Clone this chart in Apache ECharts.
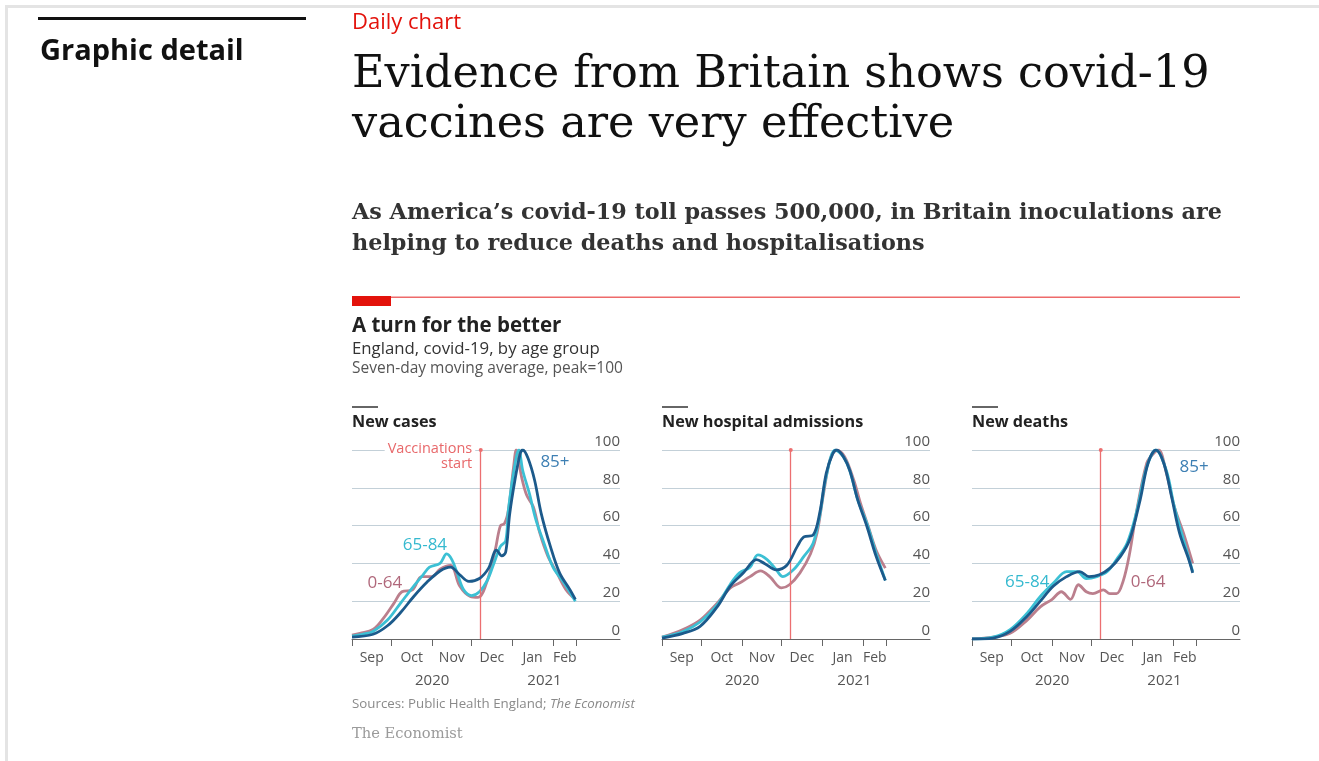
<!DOCTYPE html>
<html>
<head>
<meta charset="utf-8">
<script src="https://cdn.jsdelivr.net/npm/echarts@6/dist/echarts.min.js"></script>
<style>
  html, body { margin: 0; padding: 0; background: #fff; }
  #chart { width: 1319px; height: 761px; }
</style>
</head>
<body>
<div id="chart"></div>
<script>
// x values are days counted from 1 September 2020
const monthTickDays = [0, 30, 61, 91, 122, 153, 171];
const monthLabelDays = [15, 45.5, 76, 106.5, 137.5, 162];
const monthLabels = ['Sep', 'Oct', 'Nov', 'Dec', 'Jan', 'Feb'];
const yearLabelDays = [61, 146.5];
const yearLabels = ['2020', '2021'];
const vaccinationDay = 98; // 8 December 2020
const panelTitles = ['New cases', 'New hospital admissions', 'New deaths'];
const ageGroups = ['0-64', '65-84', '85+'];

// New cases, seven-day average, peak = 100
const casesDays064 = [0, 6, 16, 24, 32, 38, 46, 53, 61, 67, 75, 82, 90, 96, 103, 109, 113, 116, 119, 123, 125, 129, 133, 138, 143, 149, 156, 163, 170];
const cases064 = [2, 3, 5, 11, 19, 25, 26, 33, 33, 37, 39, 28, 22.5, 22, 31, 47, 60, 61, 68, 91, 100, 86, 76, 70, 56, 44, 35, 26, 21];
const casesDays6584 = [0, 8, 16, 27, 37, 47, 53, 59, 67, 72, 76, 80, 85, 91, 97, 103, 108, 113, 117, 119, 123, 127, 130, 135, 140, 146, 153, 161, 170];
const cases6584 = [1.5, 2.5, 4, 10, 19, 28, 33, 38, 40, 45, 42, 35, 26, 23, 25, 31, 40, 49, 52, 68, 88, 100, 89, 77, 63, 51, 38, 30, 20];
const casesDays85 = [0, 16, 27, 37, 47, 57, 67, 75, 82, 89, 97, 104, 110, 114, 117, 120, 124, 128, 130, 134, 139, 144, 151, 158, 166, 170];
const cases85 = [1, 2.5, 7, 14, 22.5, 30, 36, 38, 34, 30.5, 32, 37.5, 47, 44, 46, 66, 84, 98, 100, 95.6, 84, 66.5, 49, 35, 26, 21];

// New hospital admissions
const hospDays064 = [0, 16, 29, 42, 52, 59, 67, 75, 82, 91, 97, 105, 113, 118, 123, 128, 133, 139, 146, 151, 157, 163, 170];
const hosp064 = [1, 5, 10, 19, 27, 29.6, 33, 36, 33, 27, 28.7, 35, 45, 56, 77, 95, 100, 96.5, 84, 72, 59.5, 47, 37.5];
const hospDays6584 = [0, 16, 29, 42, 52, 59, 67, 73, 80, 87, 92, 100, 108, 115, 120, 125, 132, 138, 143, 149, 156, 163, 170];
const hosp6584 = [1, 4, 9, 18, 29, 35, 38, 44.5, 42, 36.6, 33, 36.6, 43.7, 50.7, 65, 86, 100, 96.5, 89, 73.6, 61, 45.4, 31];
const hospDays85 = [0, 16, 29, 42, 52, 62, 72, 78, 87, 95, 103, 108, 115, 120, 125, 130, 133, 138, 143, 149, 156, 163, 170];
const hosp85 = [0.5, 3, 6.7, 17, 28, 35, 42, 40, 36.6, 39, 49, 54, 55, 66.5, 87.7, 98, 100, 96.5, 89, 73.6, 59.5, 43.7, 31];

// New deaths
const deathDays064 = [0, 16, 29, 42, 52, 61, 68, 75, 81, 87, 92, 100, 105, 110, 115, 120, 125, 133, 138, 142, 148, 154, 161, 168];
const death064 = [0, 1, 3, 10, 17, 21, 25, 21, 28.7, 25, 24, 26, 24, 24, 30.5, 45.4, 66.5, 93, 98, 100, 87.7, 70, 56, 40];
const deathDays6584 = [0, 16, 29, 42, 52, 62, 72, 80, 87, 95, 103, 110, 118, 125, 133, 140, 148, 154, 161, 168];
const death6584 = [0, 1, 5, 13.7, 22.5, 29.6, 35.7, 35.7, 32, 33, 35.7, 42, 50.7, 66.5, 91, 100, 89, 70, 52.5, 35.7];
const deathDays85 = [0, 16, 29, 42, 52, 62, 72, 82, 89, 97, 105, 113, 120, 128, 134, 140, 146, 152, 158, 165, 168];
const death85 = [0, 0.5, 4, 12, 20, 28, 33, 35.7, 33, 34, 37.5, 43.7, 52.5, 73.6, 93, 100, 93, 75, 56, 42, 35];

// Series labels placed in data coordinates: [panel, group, day, value]
const seriesLabels = [
  [0, 0, 25, 29.6],
  [0, 1, 55.5, 49.7],
  [0, 2, 154.5, 93.7],
  [2, 1, 42, 30],
  [2, 0, 134, 30],
  [2, 2, 169, 91]
];

const panels = [
  [[casesDays064, cases064], [casesDays6584, cases6584], [casesDays85, cases85]],
  [[hospDays064, hosp064], [hospDays6584, hosp6584], [hospDays85, hosp85]],
  [[deathDays064, death064], [deathDays6584, death6584], [deathDays85, death85]]
];

const SANS = '"Open Sans", "DejaVu Sans", sans-serif';
const SERIF = '"DejaVu Serif", serif';
const lineColors = ['#bb7f8d', '#3cc0d4', '#1c5a8b'];
const labelColors = ['#b0687b', '#35b9cf', '#3d7fb3'];
const RED = '#e3120b';

const pair = (xs, ys) => xs.map((d, i) => [d, ys[i]]);

const grids = [], xAxes = [], yAxes = [], series = [];
panels.forEach((groups, p) => {
  grids.push({ left: 352 + 310 * p, top: 450, width: 268, height: 189 });
  xAxes.push({
    gridIndex: p, type: 'value', min: 0, max: 204,
    axisLine: { show: true, lineStyle: { color: '#666', width: 1 } },
    axisTick: { show: true, customValues: monthTickDays, length: 7, lineStyle: { color: '#666' } },
    axisLabel: {
      customValues: monthLabelDays, margin: 12, color: '#555', fontSize: 14, fontFamily: SANS,
      formatter: v => monthLabels[monthLabelDays.indexOf(v)]
    },
    splitLine: { show: false }
  });
  xAxes.push({
    gridIndex: p, type: 'value', min: 0, max: 204, position: 'bottom', offset: 22,
    axisLine: { show: false }, axisTick: { show: false }, splitLine: { show: false },
    axisLabel: {
      customValues: yearLabelDays, margin: 12, color: '#555', fontSize: 15, fontFamily: SANS,
      formatter: v => yearLabels[yearLabelDays.indexOf(v)]
    }
  });
  yAxes.push({
    gridIndex: p, type: 'value', position: 'right', min: 0, max: 100, interval: 20,
    axisLine: { show: false }, axisTick: { show: false },
    axisLabel: { inside: true, margin: 0, verticalAlign: 'bottom', color: '#555', fontSize: 15, fontFamily: SANS, lineHeight: 17 },
    splitLine: { show: true, lineStyle: { color: '#c3d0d8', width: 1 } }
  });
  groups.forEach(([days, vals], g) => {
    const s = {
      type: 'line', name: ageGroups[g], xAxisIndex: p * 2, yAxisIndex: p,
      data: pair(days, vals), smooth: 0.35, showSymbol: false, symbol: 'none',
      lineStyle: { color: lineColors[g], width: 2.8 }, z: 3 + g, silent: true
    };
    const marks = seriesLabels.filter(l => l[0] === p && l[1] === g);
    const mpData = marks.map(l => ({
      coord: [l[2], l[3]], symbol: 'circle', symbolSize: 1, itemStyle: { color: 'rgba(0,0,0,0)' },
      label: { show: true, position: 'inside', formatter: ageGroups[g], color: labelColors[g], fontSize: 17, fontFamily: SANS }
    }));
    if (g === 0) {
      s.markLine = {
        silent: true, symbol: ['none', 'circle'], symbolSize: 4, animation: false,
        lineStyle: { color: '#ec6f70', width: 1.3, type: 'solid' },
        label: { show: false },
        data: [[{ coord: [vaccinationDay, 0] }, { coord: [vaccinationDay, 100] }]]
      };
      if (p === 0) {
        mpData.push({
          coord: [vaccinationDay, 100], symbol: 'circle', symbolSize: 1, itemStyle: { color: 'rgba(0,0,0,0)' },
          label: {
            show: true, position: [-5, -8], align: 'right', verticalAlign: 'top',
            formatter: 'Vaccinations\nstart', color: '#e8686a', fontSize: 14.5, lineHeight: 15,
            fontFamily: SANS, backgroundColor: '#fff', padding: [0, 3, 0, 3]
          }
        });
      }
    }
    if (mpData.length) s.markPoint = { silent: true, animation: false, data: mpData };
    series.push(s);
  });
});

const text = (x, y, str, style) => ({
  type: 'text', x, y, silent: true,
  style: Object.assign({ text: str, fill: '#222', fontFamily: SANS, verticalAlign: 'middle' }, style)
});

const graphics = [
  // frame edges
  { type: 'rect', shape: { x: 5, y: 5, width: 1314, height: 3 }, style: { fill: '#e4e4e4' }, silent: true },
  { type: 'rect', shape: { x: 5, y: 5, width: 3, height: 756 }, style: { fill: '#e4e4e4' }, silent: true },
  // section heading
  { type: 'rect', shape: { x: 38, y: 17, width: 268, height: 3 }, style: { fill: '#111' }, silent: true },
  text(40, 52, 'Graphic detail', { fontSize: 29, fontWeight: 'bold', fill: '#111' }),
  text(352, 23, 'Daily chart', { fontSize: 22, fill: RED }),
  text(352, 75, 'Evidence from Britain shows covid-19', { fontSize: 44.6, fontFamily: SERIF, fill: '#111' }),
  text(352, 125, 'vaccines are very effective', { fontSize: 44.6, fontFamily: SERIF, fill: '#111' }),
  text(352, 213, 'As America\u2019s covid-19 toll passes 500,000, in Britain inoculations are', { fontSize: 22.3, fontFamily: SERIF, fontWeight: 'bold', fill: '#333' }),
  text(352, 244, 'helping to reduce deaths and hospitalisations', { fontSize: 22.3, fontFamily: SERIF, fontWeight: 'bold', fill: '#333' }),
  // chart header rule
  { type: 'rect', shape: { x: 352, y: 296.5, width: 888, height: 1.5 }, style: { fill: '#ee6a6a' }, silent: true },
  { type: 'rect', shape: { x: 352, y: 296, width: 39, height: 10 }, style: { fill: RED }, silent: true },
  text(352, 326, 'A turn for the better', { fontSize: 20.5, fontWeight: 'bold', fill: '#222' }),
  text(352, 349, 'England, covid-19, by age group', { fontSize: 16.8, fill: '#333' }),
  text(352, 369, 'Seven-day moving average, peak=100', { fontSize: 15.5, fill: '#555' }),
  {
    type: 'text', x: 352, y: 704, silent: true,
    style: {
      text: '{a|Sources: Public Health England; }{b|The Economist}', verticalAlign: 'middle',
      rich: {
        a: { fontSize: 13.3, fontFamily: SANS, fill: '#8a8a8a' },
        b: { fontSize: 13.3, fontFamily: SANS, fill: '#8a8a8a', fontStyle: 'italic' }
      }
    }
  },
  text(352, 734, 'The Economist', { fontSize: 14.7, fontFamily: SERIF, fill: '#9a9a9a' })
];
panelTitles.forEach((t, p) => {
  const x = 352 + 310 * p;
  graphics.push({ type: 'rect', shape: { x, y: 406, width: 26, height: 2 }, style: { fill: '#666' }, silent: true });
  graphics.push(text(x, 422, t, { fontSize: 16.2, fontWeight: 'bold', fill: '#222' }));
});

const chart = echarts.init(document.getElementById('chart'), null, { renderer: 'canvas' });
chart.setOption({
  backgroundColor: '#fff',
  animation: false,
  grid: grids,
  xAxis: xAxes,
  yAxis: yAxes,
  series: series,
  graphic: { elements: graphics }
});
</script>
</body>
</html>
